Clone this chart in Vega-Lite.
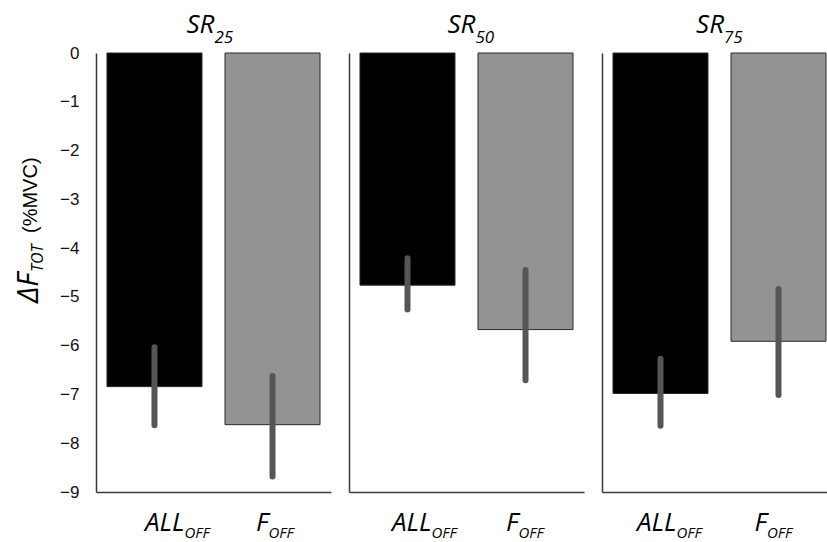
{
  "$schema": "https://vega.github.io/schema/vega-lite/v6.json",
  "autosize": {"type": "pad"},
  "padding": {"left": 14, "top": 11, "right": 0, "bottom": 0},
  "background": "white",
  "spacing": 18,
  "bounds": "flush",
  "datasets": {
    "d": [
      {"sr": "SR25", "cond": "ALL_OFF", "mean": -6.84, "lo": -7.63, "hi": -6.03},
      {"sr": "SR25", "cond": "F_OFF", "mean": -7.62, "lo": -8.68, "hi": -6.62},
      {"sr": "SR50", "cond": "ALL_OFF", "mean": -4.76, "lo": -5.26, "hi": -4.21},
      {"sr": "SR50", "cond": "F_OFF", "mean": -5.67, "lo": -6.71, "hi": -4.45},
      {"sr": "SR75", "cond": "ALL_OFF", "mean": -6.98, "lo": -7.64, "hi": -6.27},
      {"sr": "SR75", "cond": "F_OFF", "mean": -5.91, "lo": -7.01, "hi": -4.84}
    ]
  },
  "hconcat": [
    {
      "width": 235, "height": 439,
      "data": {"name": "d"},
      "transform": [{"filter": "datum.sr == 'SR25'"}],
      "encoding": {
        "x": {"field": "cond", "type": "nominal", "sort": ["ALL_OFF", "F_OFF"],
              "scale": {"paddingInner": 0.195, "paddingOuter": 0.093},
              "axis": {"labels": false, "ticks": false, "title": null, "domain": true}}
      },
      "layer": [
        {"mark": {"type": "bar", "stroke": "#2a2a2a", "strokeWidth": 1},
         "encoding": {
           "y": {"field": "mean", "type": "quantitative",
                 "scale": {"domain": [-9, 0], "nice": false, "zero": false},
                 "axis": {"values": [0, -1, -2, -3, -4, -5, -6, -7, -8, -9], "labelFont": "Liberation Sans", "labelFontSize": 17, "labelColor": "#111111", "labelPadding": 17, "ticks": false, "tickSize": 0, "title": null, "labelFlush": false, "labelOverlap": false}},
           "color": {"field": "cond", "type": "nominal", "scale": {"domain": ["ALL_OFF", "F_OFF"], "range": ["#000000", "#939393"]}, "legend": null}}},
        {"mark": {"type": "rule", "strokeWidth": 6, "strokeCap": "round", "color": "#565656"},
         "encoding": {"y": {"field": "lo", "type": "quantitative"}, "y2": {"field": "hi"}}},
        {"transform": [{"filter": "datum.cond == 'ALL_OFF'"}],
         "mark": {"type": "text", "text": "SR", "font": "Open Sans", "fontStyle": "italic", "fontSize": 26, "color": "black", "align": "right", "baseline": "alphabetic", "dx": 60, "dy": -20.3},
         "encoding": {"y": {"datum": 0}}},
        {"transform": [{"filter": "datum.cond == 'ALL_OFF'"}],
         "mark": {"type": "text", "text": "25", "font": "Open Sans", "fontStyle": "italic", "fontSize": 17, "color": "black", "align": "left", "baseline": "alphabetic", "dx": 60, "dy": -10.3},
         "encoding": {"y": {"datum": 0}}},
        {"transform": [{"filter": "datum.cond == 'ALL_OFF'"}],
         "mark": {"type": "text", "text": "ALL", "font": "Open Sans", "fontStyle": "italic", "fontSize": 26, "color": "black", "align": "right", "baseline": "alphabetic", "dx": 30, "dy": 38.5},
         "encoding": {"y": {"datum": -9}}},
        {"transform": [{"filter": "datum.cond == 'ALL_OFF'"}],
         "mark": {"type": "text", "text": "OFF", "font": "Open Sans", "fontStyle": "italic", "fontSize": 15, "color": "black", "align": "left", "baseline": "alphabetic", "dx": 30, "dy": 45.5},
         "encoding": {"y": {"datum": -9}}},
        {"transform": [{"filter": "datum.cond == 'F_OFF'"}],
         "mark": {"type": "text", "text": "F", "font": "Open Sans", "fontStyle": "italic", "fontSize": 26, "color": "black", "align": "right", "baseline": "alphabetic", "dx": -4, "dy": 38.5},
         "encoding": {"y": {"datum": -9}}},
        {"transform": [{"filter": "datum.cond == 'F_OFF'"}],
         "mark": {"type": "text", "text": "OFF", "font": "Open Sans", "fontStyle": "italic", "fontSize": 15, "color": "black", "align": "left", "baseline": "alphabetic", "dx": -4, "dy": 45.5},
         "encoding": {"y": {"datum": -9}}},
        {"transform": [{"filter": "datum.cond == 'ALL_OFF'"}],
         "mark": {"type": "text", "text": "ΔF", "font": "Open Sans", "fontStyle": "italic", "fontSize": 29, "color": "black", "align": "left", "baseline": "alphabetic", "angle": 270, "dy": -116.5},
         "encoding": {"y": {"datum": -5.125}}},
        {"transform": [{"filter": "datum.cond == 'ALL_OFF'"}],
         "mark": {"type": "text", "text": "TOT", "font": "Open Sans", "fontStyle": "italic", "fontSize": 16, "color": "black", "align": "left", "baseline": "alphabetic", "angle": 270, "dy": -111.5},
         "encoding": {"y": {"datum": -4.49}}},
        {"transform": [{"filter": "datum.cond == 'ALL_OFF'"}],
         "mark": {"type": "text", "text": "(%MVC)", "font": "Liberation Sans", "fontSize": 20, "color": "black", "align": "left", "baseline": "alphabetic", "angle": 270, "dy": -117},
         "encoding": {"y": {"datum": -3.69}}}
      ]
    },
    {
      "width": 235, "height": 439,
      "data": {"name": "d"},
      "transform": [{"filter": "datum.sr == 'SR50'"}],
      "encoding": {
        "x": {"field": "cond", "type": "nominal", "sort": ["ALL_OFF", "F_OFF"],
              "scale": {"paddingInner": 0.195, "paddingOuter": 0.093},
              "axis": {"labels": false, "ticks": false, "title": null, "domain": true}}
      },
      "layer": [
        {"mark": {"type": "bar", "stroke": "#2a2a2a", "strokeWidth": 1},
         "encoding": {
           "y": {"field": "mean", "type": "quantitative",
                 "scale": {"domain": [-9, 0], "nice": false, "zero": false},
                 "axis": {"labels": false, "ticks": false, "title": null, "domain": true}},
           "color": {"field": "cond", "type": "nominal", "scale": {"domain": ["ALL_OFF", "F_OFF"], "range": ["#000000", "#939393"]}, "legend": null}}},
        {"mark": {"type": "rule", "strokeWidth": 6, "strokeCap": "round", "color": "#565656"},
         "encoding": {"y": {"field": "lo", "type": "quantitative"}, "y2": {"field": "hi"}}},
        {"transform": [{"filter": "datum.cond == 'ALL_OFF'"}],
         "mark": {"type": "text", "text": "SR", "font": "Open Sans", "fontStyle": "italic", "fontSize": 26, "color": "black", "align": "right", "baseline": "alphabetic", "dx": 68, "dy": -20.3},
         "encoding": {"y": {"datum": 0}}},
        {"transform": [{"filter": "datum.cond == 'ALL_OFF'"}],
         "mark": {"type": "text", "text": "50", "font": "Open Sans", "fontStyle": "italic", "fontSize": 17, "color": "black", "align": "left", "baseline": "alphabetic", "dx": 68, "dy": -10.3},
         "encoding": {"y": {"datum": 0}}},
        {"transform": [{"filter": "datum.cond == 'ALL_OFF'"}],
         "mark": {"type": "text", "text": "ALL", "font": "Open Sans", "fontStyle": "italic", "fontSize": 26, "color": "black", "align": "right", "baseline": "alphabetic", "dx": 24, "dy": 38.5},
         "encoding": {"y": {"datum": -9}}},
        {"transform": [{"filter": "datum.cond == 'ALL_OFF'"}],
         "mark": {"type": "text", "text": "OFF", "font": "Open Sans", "fontStyle": "italic", "fontSize": 15, "color": "black", "align": "left", "baseline": "alphabetic", "dx": 24, "dy": 45.5},
         "encoding": {"y": {"datum": -9}}},
        {"transform": [{"filter": "datum.cond == 'F_OFF'"}],
         "mark": {"type": "text", "text": "F", "font": "Open Sans", "fontStyle": "italic", "fontSize": 26, "color": "black", "align": "right", "baseline": "alphabetic", "dx": -7, "dy": 38.5},
         "encoding": {"y": {"datum": -9}}},
        {"transform": [{"filter": "datum.cond == 'F_OFF'"}],
         "mark": {"type": "text", "text": "OFF", "font": "Open Sans", "fontStyle": "italic", "fontSize": 15, "color": "black", "align": "left", "baseline": "alphabetic", "dx": -7, "dy": 45.5},
         "encoding": {"y": {"datum": -9}}}
      ]
    },
    {
      "width": 225, "height": 439,
      "data": {"name": "d"},
      "transform": [{"filter": "datum.sr == 'SR75'"}],
      "encoding": {
        "x": {"field": "cond", "type": "nominal", "sort": ["ALL_OFF", "F_OFF"],
              "scale": {"paddingInner": 0.195, "paddingOuter": 0.0508, "align": 0.917},
              "axis": {"labels": false, "ticks": false, "title": null, "domain": true}}
      },
      "layer": [
        {"mark": {"type": "bar", "stroke": "#2a2a2a", "strokeWidth": 1},
         "encoding": {
           "y": {"field": "mean", "type": "quantitative",
                 "scale": {"domain": [-9, 0], "nice": false, "zero": false},
                 "axis": {"labels": false, "ticks": false, "title": null, "domain": true}},
           "color": {"field": "cond", "type": "nominal", "scale": {"domain": ["ALL_OFF", "F_OFF"], "range": ["#000000", "#939393"]}, "legend": null}}},
        {"mark": {"type": "rule", "strokeWidth": 6, "strokeCap": "round", "color": "#565656"},
         "encoding": {"y": {"field": "lo", "type": "quantitative"}, "y2": {"field": "hi"}}},
        {"transform": [{"filter": "datum.cond == 'ALL_OFF'"}],
         "mark": {"type": "text", "text": "SR", "font": "Open Sans", "fontStyle": "italic", "fontSize": 26, "color": "black", "align": "right", "baseline": "alphabetic", "dx": 63.5, "dy": -20.3},
         "encoding": {"y": {"datum": 0}}},
        {"transform": [{"filter": "datum.cond == 'ALL_OFF'"}],
         "mark": {"type": "text", "text": "75", "font": "Open Sans", "fontStyle": "italic", "fontSize": 17, "color": "black", "align": "left", "baseline": "alphabetic", "dx": 63.5, "dy": -10.3},
         "encoding": {"y": {"datum": 0}}},
        {"transform": [{"filter": "datum.cond == 'ALL_OFF'"}],
         "mark": {"type": "text", "text": "ALL", "font": "Open Sans", "fontStyle": "italic", "fontSize": 26, "color": "black", "align": "right", "baseline": "alphabetic", "dx": 16, "dy": 38.5},
         "encoding": {"y": {"datum": -9}}},
        {"transform": [{"filter": "datum.cond == 'ALL_OFF'"}],
         "mark": {"type": "text", "text": "OFF", "font": "Open Sans", "fontStyle": "italic", "fontSize": 15, "color": "black", "align": "left", "baseline": "alphabetic", "dx": 16, "dy": 45.5},
         "encoding": {"y": {"datum": -9}}},
        {"transform": [{"filter": "datum.cond == 'F_OFF'"}],
         "mark": {"type": "text", "text": "F", "font": "Open Sans", "fontStyle": "italic", "fontSize": 26, "color": "black", "align": "right", "baseline": "alphabetic", "dx": -11.5, "dy": 38.5},
         "encoding": {"y": {"datum": -9}}},
        {"transform": [{"filter": "datum.cond == 'F_OFF'"}],
         "mark": {"type": "text", "text": "OFF", "font": "Open Sans", "fontStyle": "italic", "fontSize": 15, "color": "black", "align": "left", "baseline": "alphabetic", "dx": -11.5, "dy": 45.5},
         "encoding": {"y": {"datum": -9}}}
      ]
    }
  ],
  "config": {
    "view": {"stroke": null},
    "axis": {"grid": false, "domainColor": "#3a3a3a", "domainWidth": 1.5}
  }
}
